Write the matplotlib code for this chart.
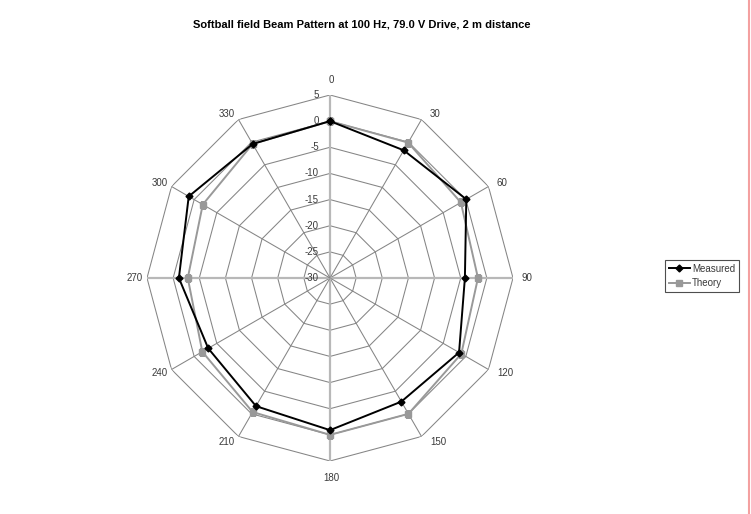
import numpy as np
import matplotlib
matplotlib.use('Agg')
import matplotlib.pyplot as plt
from matplotlib.lines import Line2D

plt.rcParams['font.family'] = ['Liberation Sans', 'DejaVu Sans']

# angles in degrees, levels in dB
angles = [0, 30, 60, 90, 120, 150, 180, 210, 240, 270, 300, 330]
measured = [0.0, -1.8, 0.1, -4.2, -1.5, -2.7, -0.9, -1.7, -3.1, -1.1, 1.2, -0.4]
theory = [0.0, -0.1, -1.1, -1.7, -1.0, 0.0, 0.0, -0.4, -1.8, -2.8, -1.9, -0.4]
rings = [-25, -20, -15, -10, -5, 0, 5]
ring_labels = ['5', '0', '-5', '-10', '-15', '-20', '-25', '-30']
rmin, rmax = -30, 5

fig = plt.figure(figsize=(7.51, 5.14), dpi=100)
ax = fig.add_axes([147 / 751, 53 / 514, 366 / 751, 366 / 514], projection='polar')
ax.set_theta_zero_location('N')
ax.set_theta_direction(-1)
ax.set_ylim(rmin, rmax)
ax.grid(False)
ax.set_xticks([])
ax.set_yticks([])
ax.spines['polar'].set_visible(False)
ax.patch.set_alpha(0)

th = np.deg2rad(angles + [angles[0]])

# polygon rings
for r in rings:
    ax.plot(th, [r] * len(th), color='#858585', lw=0.75, zorder=1)

# spokes
for a in angles:
    t = np.deg2rad(a)
    if a % 90 == 0:
        ax.plot([t, t], [rmin, rmax], color='#b8b8b8', lw=1.6, zorder=1)
    else:
        ax.plot([t, t], [rmin, rmax], color='#858585', lw=0.75, zorder=1)

# value labels along the vertical axis
for lab in ring_labels:
    ax.annotate(lab, xy=(0, float(lab)), xytext=(-8, 0), textcoords='offset points',
                ha='right', va='center', fontsize=7, color='#3a3a3a')

# category labels, placed just outside the outer ring
for a in angles:
    t = np.deg2rad(a)
    if a == 0:
        off, ha = (1, 11), 'center'
    elif a == 180:
        off, ha = (1, -12), 'center'
    elif a < 180:
        off, ha = (6, 4.5 * np.cos(t)), 'left'
    else:
        off, ha = (-3, 4.5 * np.cos(t)), 'right'
    ax.annotate(str(a), xy=(t, rmax), xytext=off, textcoords='offset points',
                ha=ha, va='center', fontsize=7, color='#3a3a3a')

ax.plot(np.deg2rad(angles + [angles[0]]), theory + [theory[0]], color='#999999', lw=1.4,
        marker='s', markersize=5, markeredgecolor='#999999', label='Theory', zorder=3)
ax.plot(np.deg2rad(angles + [angles[0]]), measured + [measured[0]], color='black', lw=1.4,
        marker='D', markersize=3.5, label='Measured', zorder=4)

h, l = ax.get_legend_handles_labels()
leg = fig.legend(h[::-1], l[::-1], loc='center', bbox_to_anchor=(702 / 751, 1 - 276 / 514),
                 fontsize=7, frameon=True, fancybox=False, handlelength=2.2,
                 borderpad=0.4, labelspacing=0.45, handletextpad=0.2, borderaxespad=0)
leg.get_frame().set_edgecolor('#222222')
leg.get_frame().set_linewidth(0.8)
for t in leg.get_texts():
    t.set_color('#3a3a3a')

fig.suptitle('Softball field Beam Pattern at 100 Hz, 79.0 V Drive, 2 m distance',
             x=362 / 751, y=1 - 24 / 514, va='center', fontsize=8, fontweight='bold')

fig.add_artist(Line2D([749 / 751, 749 / 751], [0, 1], color='#f4a0a0', lw=1.5))

fig.savefig('out.png', dpi=100)
